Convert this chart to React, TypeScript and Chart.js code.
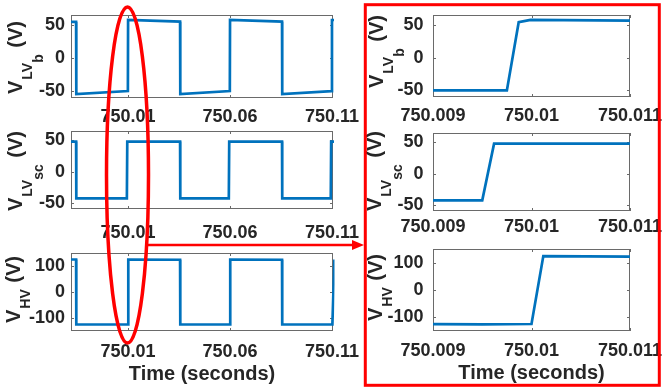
import React, { useEffect, useRef } from "react";
import { Chart, registerables } from "chart.js";
Chart.register(...registerables);

const W = 662;
const H = 390;
const FONT = '"Liberation Sans", Arial, Helvetica, sans-serif';
const INK = "#262626";
const LINE = "#0072BD";

// ---- ticks ----
const wideTicks = [750.01, 750.06, 750.11];
const wideTickLabels = ["750.01", "750.06", "750.11"];
const zoomTicks = [750.009, 750.01, 750.011];
const zoomTickLabels = ["750.009", "750.01", "750.011"];
const lvTicks = [-50, 0, 50];
const lvTickLabels = ["-50", "0", "50"];
const hvTicks = [-100, 0, 100];
const hvTickLabels = ["-100", "0", "100"];

// ---- axis ranges ----
const wideRange = [749.982, 750.1105];
const zoomRange = [750.009, 750.011];
const lvRange = [-60, 65];
const hvRange = [-150, 150];

// ---- data: wide window (left column) ----
const wideTimeB = [749.982, 749.9845, 749.9846, 750.0099, 750.01, 750.0355, 750.0356, 750.0599, 750.06, 750.0855, 750.0856, 750.1099, 750.11, 750.111];
const wideVoltB = [54.5, 54.5, -54, -49.5, 57.5, 55, -54, -49.5, 57.5, 55, -54, -49.5, 57.5, 57.5];
const wideTimeSC = [749.982, 749.9845, 749.9846, 750.0094, 750.0096, 750.0355, 750.0356, 750.0594, 750.0596, 750.0855, 750.0856, 750.1094, 750.1096, 750.111];
const wideVoltSC = [48, 48, -43, -43, 48, 48, -43, -43, 48, 48, -43, -43, 48, 48];
const wideTimeHV = [749.982, 749.9845, 749.9846, 750.01, 750.0101, 750.0355, 750.0356, 750.06, 750.0601, 750.0855, 750.0856, 750.1102, 750.1112];
const wideVoltHV = [125, 125, -125, -125, 125, 124, -125, -125, 125, 124, -125, -125, 125];

// ---- data: zoomed window (right column) ----
const zoomTimeB = [750.009, 750.00975, 750.00987, 750.00999, 750.011];
const zoomVoltB = [-50, -50, 54, 57.5, 56.5];
const zoomTimeSC = [750.009, 750.0095, 750.00962, 750.011];
const zoomVoltSC = [-43, -43, 48, 48];
const zoomTimeHV = [750.009, 750.0095, 750.01, 750.01012, 750.011];
const zoomVoltHV = [-125, -125.5, -124.5, 124, 122];

const framePlugin = {
  id: "frame",
  beforeDatasetsDraw(chart: any) {
    const { ctx, chartArea: a, scales } = chart;
    const L = a.left, R = a.right, T = a.top, B = a.bottom;
    ctx.save();
    ctx.strokeStyle = "#6a6a6a";
    ctx.lineWidth = 1;
    ctx.strokeRect(L + 0.5, T + 0.5, R - L - 1, B - T - 1);
    ctx.beginPath();
    const tl = 3;
    scales.x.ticks.forEach((t: any) => {
      const px = Math.round(scales.x.getPixelForValue(t.value)) + 0.5;
      ctx.moveTo(px, B); ctx.lineTo(px, B - tl);
      ctx.moveTo(px, T); ctx.lineTo(px, T + tl);
    });
    scales.y.ticks.forEach((t: any) => {
      const py = Math.round(scales.y.getPixelForValue(t.value)) + 0.5;
      ctx.moveTo(L, py); ctx.lineTo(L + tl, py);
      ctx.moveTo(R, py); ctx.lineTo(R - tl, py);
    });
    ctx.stroke();
    ctx.restore();
  },
};

const yTitlePlugin = {
  id: "yTitle",
  afterDraw(chart: any, _args: any, opts: any) {
    if (!opts || !opts.parts) return;
    const { parts, x, cy } = opts;
    const ctx = chart.ctx;
    ctx.save();
    ctx.fillStyle = INK;
    ctx.textBaseline = "alphabetic";
    ctx.textAlign = "left";
    let total = 0;
    const widths = parts.map((p: any) => {
      ctx.font = `bold ${p.size}px ${FONT}`;
      const w = ctx.measureText(p.text).width + (p.gap || 0);
      total += w;
      return w;
    });
    ctx.translate(x, cy);
    ctx.rotate(-Math.PI / 2);
    let u = -total / 2;
    parts.forEach((p: any, i: number) => {
      ctx.font = `bold ${p.size}px ${FONT}`;
      ctx.fillText(p.text, u + (p.gap || 0), p.dy);
      u += widths[i];
    });
    ctx.restore();
  },
};

const titleB = [
  { text: "V", size: 20, dy: 0 },
  { text: "LV", size: 14, dy: 10, gap: 1 },
  { text: "b", size: 14, dy: 21 },
  { text: " (V)", size: 20, dy: 0, gap: 1 },
];
const titleSC = [
  { text: "V", size: 20, dy: 0 },
  { text: "LV", size: 14, dy: 10, gap: 1 },
  { text: "sc", size: 14, dy: 21 },
  { text: " (V)", size: 20, dy: 0, gap: 1 },
];
const titleHV = [
  { text: "V", size: 20, dy: 0 },
  { text: "HV", size: 14, dy: 10, gap: 1 },
  { text: " (V)", size: 20, dy: 0, gap: 1 },
];

type Panel = {
  t: number[]; v: number[];
  xr: number[]; xt: number[]; xl: string[];
  yr: number[]; yt: number[]; yl: string[];
  L: number; R: number; T: number; B: number;
  xPad: number; yPad: number;
  title: any[]; tx: number; tcy: number;
  xTitle?: boolean; xTitlePad?: number;
};

const panels: Panel[] = [
  { t: wideTimeB, v: wideVoltB, xr: wideRange, xt: wideTicks, xl: wideTickLabels, yr: lvRange, yt: lvTicks, yl: lvTickLabels,
    L: 71, R: 333, T: 15, B: 98, xPad: 8.7, yPad: 6, title: titleB, tx: 22, tcy: 57.5 },
  { t: wideTimeSC, v: wideVoltSC, xr: wideRange, xt: wideTicks, xl: wideTickLabels, yr: lvRange, yt: lvTicks, yl: lvTickLabels,
    L: 71, R: 333, T: 131, B: 209, xPad: 13.5, yPad: 6, title: titleSC, tx: 22, tcy: 171 },
  { t: wideTimeHV, v: wideVoltHV, xr: wideRange, xt: wideTicks, xl: wideTickLabels, yr: hvRange, yt: hvTicks, yl: hvTickLabels,
    L: 71, R: 333, T: 253, B: 331, xPad: 10.2, yPad: 6, title: titleHV, tx: 20, tcy: 289.5, xTitle: true, xTitlePad: 3.5 },
  { t: zoomTimeB, v: zoomVoltB, xr: zoomRange, xt: zoomTicks, xl: zoomTickLabels, yr: lvRange, yt: lvTicks, yl: lvTickLabels,
    L: 433, R: 630, T: 15, B: 97, xPad: 8.2, yPad: 9.5, title: titleB, tx: 383, tcy: 51.5 },
  { t: zoomTimeSC, v: zoomVoltSC, xr: zoomRange, xt: zoomTicks, xl: zoomTickLabels, yr: lvRange, yt: lvTicks, yl: lvTickLabels,
    L: 433, R: 630, T: 133, B: 211, xPad: 5.7, yPad: 9.5, title: titleSC, tx: 381, tcy: 171 },
  { t: zoomTimeHV, v: zoomVoltHV, xr: zoomRange, xt: zoomTicks, xl: zoomTickLabels, yr: hvRange, yt: hvTicks, yl: hvTickLabels,
    L: 433, R: 630, T: 249, B: 331, xPad: 9.2, yPad: 9.5, title: titleHV, tx: 381.5, tcy: 287.5, xTitle: true, xTitlePad: 4.7 },
];

function makeConfig(p: Panel): any {
  const tickFont = { family: FONT, size: 18, weight: "bold" as const };
  return {
    type: "line",
    data: {
      datasets: [
        {
          data: p.t.map((t, i) => ({ x: t, y: p.v[i] })),
          borderColor: LINE,
          borderWidth: 2.7,
          pointRadius: 0,
          tension: 0,
          fill: false,
          clip: 1.5,
        },
      ],
    },
    options: {
      responsive: false,
      animation: false,
      events: [],
      layout: { padding: { left: 0, top: p.T, right: W - p.R, bottom: 0 } },
      scales: {
        x: {
          type: "linear",
          min: p.xr[0],
          max: p.xr[1],
          afterBuildTicks: (s: any) => { s.ticks = p.xt.map((v) => ({ value: v })); },
          afterFit: (s: any) => { s.height = H - p.B; s.paddingLeft = 0; s.paddingRight = 0; },
          ticks: {
            autoSkip: false, maxRotation: 0, minRotation: 0, padding: p.xPad,
            font: tickFont, color: INK,
            callback: (_v: any, i: number) => p.xl[i],
          },
          grid: { display: false, drawTicks: false },
          border: { display: false },
          title: p.xTitle
            ? { display: true, text: "Time (seconds)", color: INK, font: { family: FONT, size: 20, weight: "bold" }, padding: { top: 0, bottom: p.xTitlePad } }
            : { display: false },
        },
        y: {
          type: "linear",
          min: p.yr[0],
          max: p.yr[1],
          afterBuildTicks: (s: any) => { s.ticks = p.yt.map((v) => ({ value: v })); },
          afterFit: (s: any) => { s.width = p.L; s.paddingTop = 0; s.paddingBottom = 0; },
          ticks: {
            padding: p.yPad, font: tickFont, color: INK,
            callback: (_v: any, i: number) => p.yl[i],
          },
          grid: { display: false, drawTicks: false },
          border: { display: false },
        },
      },
      plugins: {
        legend: { display: false },
        tooltip: { enabled: false },
        yTitle: { parts: p.title, x: p.tx, cy: p.tcy },
      },
    },
    plugins: [framePlugin, yTitlePlugin],
  };
}

export default function App() {
  const refs = useRef<(HTMLCanvasElement | null)[]>([]);
  useEffect(() => {
    const charts = panels.map((p, i) => new Chart(refs.current[i] as HTMLCanvasElement, makeConfig(p)));
    return () => charts.forEach((c) => c.destroy());
  }, []);
  return (
    <div style={{ position: "absolute", left: 0, top: 0, width: W, height: H, background: "#fff", overflow: "hidden" }}>
      {panels.map((_, i) => (
        <canvas
          key={i}
          ref={(el) => { refs.current[i] = el; }}
          width={W}
          height={H}
          style={{ position: "absolute", left: 0, top: 0, width: W, height: H }}
        />
      ))}
      <svg width={W} height={H} style={{ position: "absolute", left: 0, top: 0, pointerEvents: "none" }}>
        <ellipse cx={127.5} cy={175} rx={21} ry={168} fill="none" stroke="#ff0000" strokeWidth={3.5} />
        <line x1={148} y1={245} x2={354} y2={245} stroke="#ff0000" strokeWidth={2.5} />
        <polygon points="364,245 352,240 352,250" fill="#ff0000" />
        <rect x={365.3} y={4.7} width={294} height={380.6} fill="none" stroke="#ff0000" strokeWidth={3} />
      </svg>
    </div>
  );
}
